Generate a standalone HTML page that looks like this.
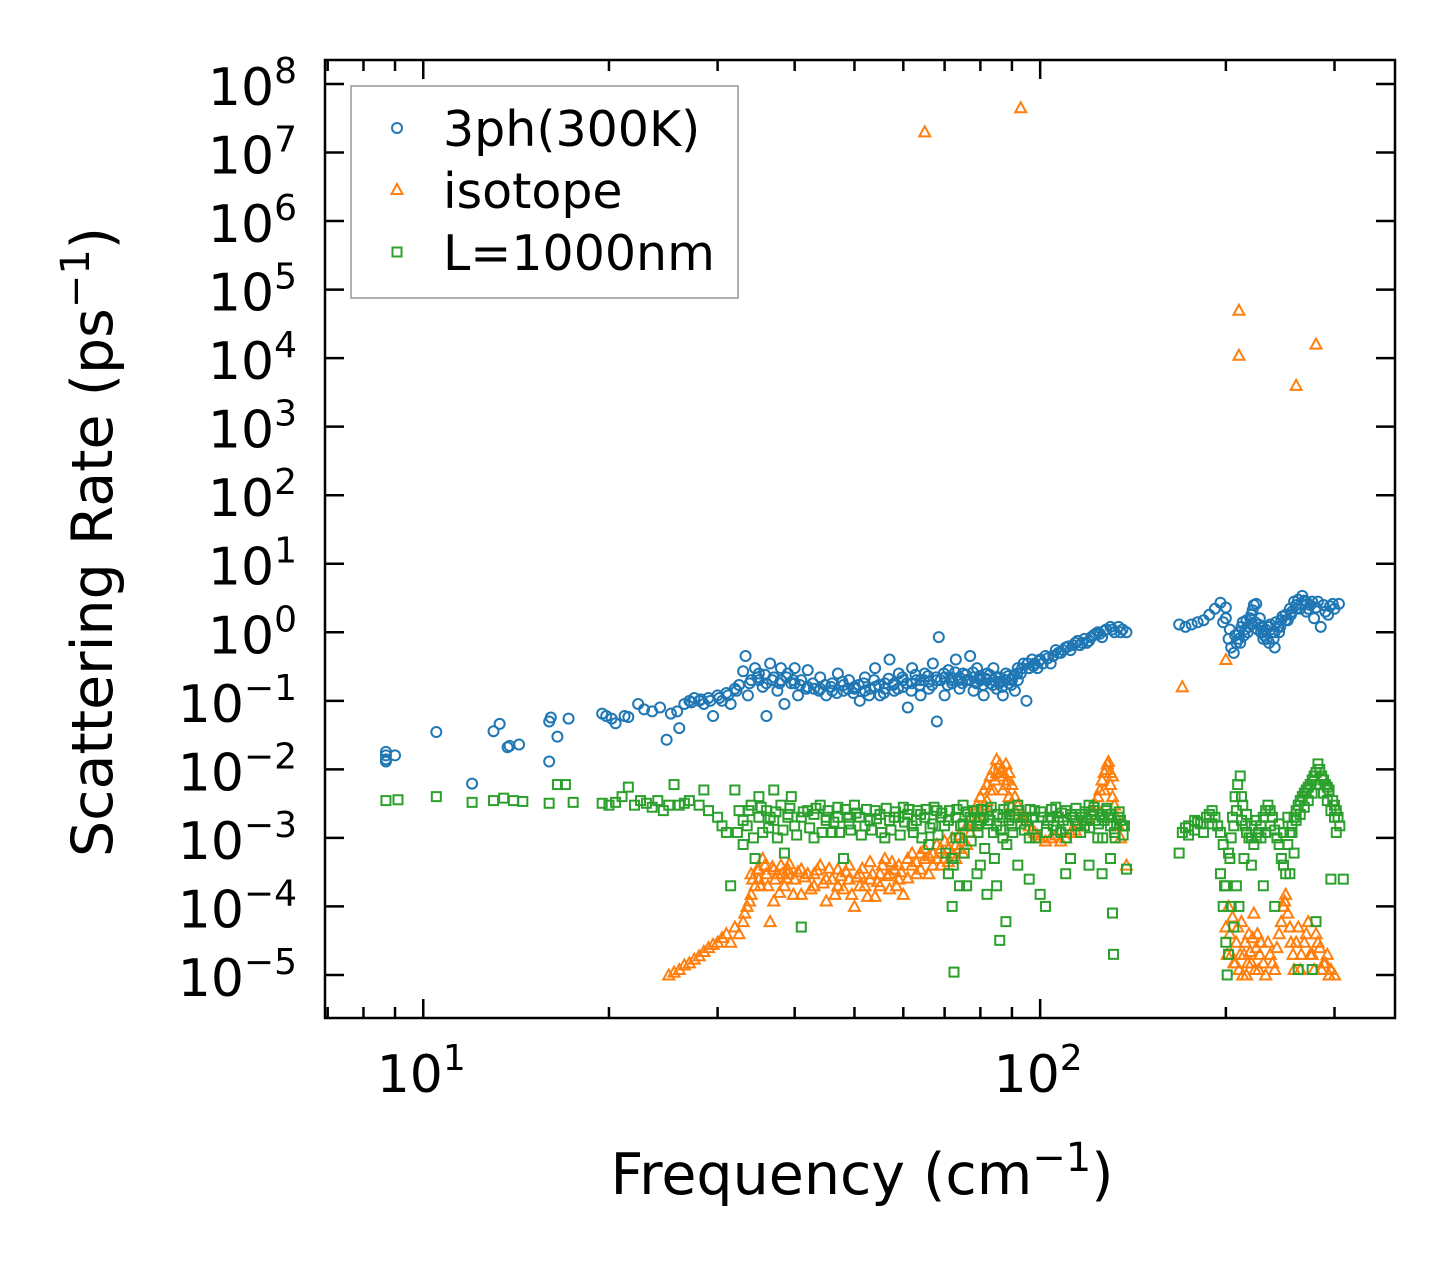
<!DOCTYPE html>
<html><head><meta charset="utf-8"><style>
html,body{margin:0;padding:0;background:#fff;}
svg{display:block;font-family:"DejaVu Sans","Liberation Sans",sans-serif;}
</style></head><body>
<svg id="chart" width="1455" height="1267" viewBox="0 0 1455 1267" xmlns="http://www.w3.org/2000/svg">
<rect x="0" y="0" width="1455" height="1267" fill="#fff"/>
<g id="marks"></g>
<g id="axes"></g>
<rect x="325" y="60" width="1070" height="958" fill="none" stroke="#000" stroke-width="2.5"/>
<text x="862" y="1194" font-size="57" text-anchor="middle">Frequency (cm<tspan dy="-23" font-size="40">−1</tspan><tspan dy="23">)</tspan></text>
<text transform="translate(112,542) rotate(-90)" font-size="57" text-anchor="middle">Scattering Rate (ps<tspan dy="-23" font-size="40">−1</tspan><tspan dy="23">)</tspan></text>
<g>
<rect x="351" y="86" width="387" height="212" fill="#fff" stroke="#999" stroke-width="1.5"/>
<circle cx="397" cy="128" r="5" fill="none" stroke="#1f77b4" stroke-width="2"/>
<text x="443" y="146" font-size="49">3ph(300K)</text>
<polygon points="397,184 402.5,194 391.5,194" fill="none" stroke="#ff7f0e" stroke-width="2"/>
<text x="443" y="208" font-size="49">isotope</text>
<rect x="392.5" y="247.5" width="9" height="9" fill="none" stroke="#2ca02c" stroke-width="2"/>
<text x="443" y="270" font-size="49">L=1000nm</text>
</g>
</svg>
<script>
const xTickExps = [1, 2];
const yTickExps = [8,7,6,5,4,3,2,1,0,-1,-2,-3,-4,-5];
const blueData = [[8.7,.018],[8.7,.016],[8.7,.014],[8.7,.013],[9,.016],[10.5,.035],[12,.0062],[13,.036],[13.3,.046],[13.7,.021],[13.8,.022],[14.3,.023],[16,.013],[16,.05],[16.1,.057],[16.5,.03],[17.2,.055],[19.5,.065],[19.8,.06],[20.2,.055],[20.5,.047],[21.2,.06],[21.5,.058],[22.3,.09],[22.8,.075],[23.5,.07],[24.2,.08],[24.8,.027],[25.2,.065],[25.8,.07],[26,.04],[26.5,.09],[27,.1],[27.5,.11],[28,.1],[28.5,.09],[29,.11],[29.5,.06],[30,.12],[30.5,.1],[31,.13],[31.5,.09],[32,.15],[32.5,.17],[33,.27],[33.3,.45],[33.6,.12],[34,.2],[34.5,.3],[35,.25],[35.5,.16],[36,.06],[36.5,.35],[37,.22],[37.5,.14],[38,.3],[38.5,.09],[39,.25],[39.5,.18],[40,.3],[40.5,.12],[41,.2],[42,.28],[43,.15],[44,.22],[45,.12],[46,.18],[47,.25],[48,.14],[49,.2],[50,.16],[51,.1],[52,.22],[53,.15],[54,.3],[55,.12],[56,.18],[57,.4],[58,.14],[59,.25],[60,.16],[61,.08],[62,.3],[63,.2],[64,.12],[65,.25],[66,.15],[67,.35],[68,.05],[68.5,.85],[69,.2],[70,.12],[71,.28],[72,.18],[73,.4],[74,.15],[75,.25],[76,.2],[77,.45],[78,.14],[79,.3],[80,.2],[81,.12],[82,.25],[83,.18],[84,.3],[85,.15],[86,.22],[87,.12],[88,.25],[89,.18],[90,.2],[91,.14],[92,.3],[93,.25],[94,.35],[95,.1],[96,.3],[97,.4],[98,.35],[100,.4],[102,.45],[104,.35],[106,.55],[108,.5],[110,.6],[112,.55],[114,.7],[116,.65],[118,.8],[120,.75],[122,.9],[124,1.0],[126,.85],[128,1.1],[130,1.2],[132,1.0],[134,1.2],[136,1.1],[138,1.0],[168,1.3],[172,1.2],[176,1.3],[180,1.4],[184,1.5],[188,1.8],[192,2.2],[196,2.7],[198,1.4],[200,2.3],[202,0.8],[204,0.6],[206,0.5],[208,0.7],[210,1.0],[212,1.2],[214,0.9],[216,1.5],[218,1.2],[220,1.8],[222,2.5],[224,2.6],[226,1.3],[228,1.0],[230,0.8],[232,1.1],[235,0.7],[238,1.0],[240,0.6],[243,1.2],[246,1.5],[250,1.8],[254,2.2],[258,2.8],[262,3.0],[266,3.4],[270,2.0],[274,2.5],[278,1.6],[282,2.8],[285,1.2],[290,2.0],[295,2.4],[300,2.2],[305,2.6],
[35,.2],[36,.18],[38,.2],[40,.18],[42,.16],[44,.15],[46,.14],[48,.17],[50,.15],[52,.14],[54,.16],[56,.15],[58,.18],[60,.2],[62,.18],[64,.2],[66,.19],[68,.2],[70,.22],[72,.2],[74,.22],[76,.2],[78,.22],[80,.21],[82,.2],[84,.2],[86,.19],[88,.2],[90,.21],[92,.2],[99,.3],[101,.35],[105,.45],[109,.55],[113,.65],[117,.7],[121,.85],[125,.95],[210,.8],[215,1.1],[220,1.3],[225,1.1],[230,1.0],[235,1.2],[240,1.0],[245,1.2],[250,1.5],[255,1.8],[260,2.2],[265,2.6],[270,2.8],
[27.2,.095],[28.2,.105],[29.2,.1],[30.2,.11],[31.2,.12],[32.2,.14],[33.8,.18],[34.8,.22],[35.8,.24],[36.8,.2],[37.8,.18],[38.8,.22],[39.8,.2],[40.8,.17],[41.8,.15],[42.8,.18],[43.8,.14],[44.8,.17],[45.8,.16],[46.8,.13],[47.8,.19],[48.8,.15],[49.8,.13],[50.8,.17],[51.8,.18],[52.8,.12],[53.8,.2],[54.8,.17],[55.8,.13],[56.8,.21],[57.8,.17],[58.8,.15],[59.8,.22],[60.8,.18],[61.8,.14],[62.8,.24],[63.8,.17],[64.8,.2],[65.8,.23],[66.8,.17],[67.8,.22],[69.8,.25],[70.8,.17],[71.8,.22],[72.8,.26],[73.8,.2],[74.8,.18],[75.8,.24],[76.8,.2],[77.8,.26],[78.8,.18],[79.8,.23],[80.8,.17],[81.8,.21],[82.8,.24],[83.8,.17],[84.8,.22],[85.8,.18],[86.8,.16],[87.8,.2],[88.8,.23],[89.8,.17],[90.8,.24],[91.8,.25],[93.5,.3],[95.5,.35],[97.5,.32],[99.5,.38],[103,.42],[107,.5],[111,.62],[115,.75],[119,.7],[123,.95],[127,1.05],[131,1.1],[135,1.0],
[200,1.6],[203,1.1],[207,0.9],[211,0.7],[213,1.4],[217,1.0],[219,1.6],[221,2.1],[223,1.4],[227,1.6],[229,1.2],[231,0.9],[233,0.8],[236,1.3],[239,0.8],[241,1.4],[244,1.0],[247,1.7],[252,1.5],[256,2.0],[260,2.5],[264,2.2],[268,2.9],[272,2.2],[276,2.8],[280,2.3],[288,2.5],[293,1.8],[298,2.6]];
const orangeData = [[65,2e7],[93,4.5e7],[210,5e4],[210,1.1e4],[260,4e3],[280,1.6e4],[170,0.16],[200,0.4],
[25,1e-5],[25.5,1.1e-5],[26,1.2e-5],[26.5,1.4e-5],[27,1.5e-5],[27.5,1.7e-5],[28,1.9e-5],[28.5,2.2e-5],[29,2.5e-5],[29.5,2.8e-5],[30,3e-5],[30.5,3.5e-5],[31,4e-5],[31.5,3e-5],[32,5e-5],[32.5,4e-5],[33,6e-5],[33.5,1e-4],[34,1.5e-4],[34.5,2e-4],[35,2.5e-4],[35.5,5e-4],[36,3e-4],[36.5,6e-5],[37,1.2e-4],[37.5,3e-4],[38,4e-4],[38.5,2e-4],[39,3.5e-4],[40,2.5e-4],[41,1.5e-4],[42,3e-4],[43,2e-4],[44,4e-4],[45,1.2e-4],[46,2.5e-4],[47,3.5e-4],[48,1.8e-4],[49,4e-4],[50,1e-4],[51,3e-4],[52,2e-4],[53,4.5e-4],[54,1.4e-4],[55,3e-4],[56,5e-4],[57,1.8e-4],[58,3.5e-4],[59,2.5e-4],[60,1.5e-4],[62,4e-4],[64,6e-4],[66,3e-4],[68,8e-4],[70,5e-4],[72,1e-3],[74,7e-4],[76,1.5e-3],[78,2.5e-3],[80,4e-3],[82,6e-3],[84,1e-2],[85,1.4e-2],[86,8e-3],[87,5e-3],[88,1.2e-2],[89,4e-3],[90,6e-3],[92,3e-3],[94,2e-3],[96,1.5e-3],[98,1.2e-3],[100,1e-3],[104,1e-3],[108,9e-4],[112,1.2e-3],[116,1.5e-3],[120,2e-3],[124,4e-3],[126,7e-3],[128,1e-2],[129,1.3e-2],[130,6e-3],[132,3e-3],[134,1.5e-3],[138,4e-4],
[34,3e-4],[35,3.5e-4],[37,3.5e-4],[39,3e-4],[41,3.5e-4],[43,3e-4],[45,2.5e-4],[47,2e-4],[49,2.5e-4],[51,2e-4],[53,2.5e-4],[55,2e-4],[57,3e-4],[59,4e-4],[61,5e-4],[63,3e-4],[65,5e-4],[67,6e-4],[69,4e-4],[71,7e-4],[73,5e-4],[75,9e-4],[77,1.2e-3],[79,2e-3],[81,3e-3],[83,5e-3],[84.5,7e-3],[86.5,1e-2],[88.5,7e-3],[91,4e-3],[123,3e-3],[127,5e-3],[131,8e-3],
[33.2,8e-5],[33.8,1.2e-4],[34.2,2.5e-4],[34.8,3.5e-4],[35.2,2e-4],[35.8,4e-4],[36.2,2e-4],[36.8,3.8e-4],[37.2,2.5e-4],[37.8,1.6e-4],[38.2,3e-4],[38.8,2.6e-4],[39.2,4.2e-4],[39.8,1.5e-4],[40.5,3.2e-4],[41.5,2.7e-4],[42.5,1.8e-4],[43.5,3.4e-4],[44.5,2.2e-4],[45.5,3.6e-4],[46.5,1.5e-4],[47.5,2.8e-4],[48.5,3.2e-4],[49.5,1.5e-4],[50.5,2.7e-4],[51.5,3.6e-4],[52.5,1.4e-4],[53.5,3e-4],[54.5,2.3e-4],[55.5,4e-4],[56.5,2.8e-4],[57.5,4.5e-4],[58.5,2e-4],[59.5,3.2e-4],[61,2.6e-4],[62,6e-4],[63,4.5e-4],[64,3.5e-4],[65,7e-4],[66,5.5e-4],[67,4e-4],[68,5e-4],[69,7e-4],[70,9e-4],[71,4.5e-4],[72,6e-4],[73,8e-4],[74,1.1e-3],[75,6e-4],[76,8e-4],[77,2e-3],[78,1.5e-3],[79,3e-3],[80,2e-3],[81,5e-3],[82,3.5e-3],[83,8e-3],[84,5e-3],[85,9e-3],[86,1.2e-2],[87,8e-3],[88,6e-3],[89,9e-3],[90,3e-3],[91,2.5e-3],[93,2e-3],[95,1.8e-3],[97,1.3e-3],[99,1.1e-3],[102,9e-4],[106,1.1e-3],[110,1e-3],[114,1.3e-3],[118,1.8e-3],[122,2.5e-3],[125,5e-3],[127,9e-3],[128.5,1.2e-2],[130,9e-3],[131,4e-3],[133,2e-3],[135,1e-3],
[200,5e-5],[202,1e-4],[204,2e-5],[206,1.5e-5],[208,3e-5],[210,1.2e-5],[212,6e-5],[214,2e-5],[216,1e-5],[218,4e-5],[220,1.5e-5],[222,8e-5],[224,2.5e-5],[226,1.2e-5],[228,3e-5],[232,1e-5],[236,2e-5],[240,1.2e-5],[244,4e-5],[248,1e-4],[250,1.5e-4],[252,8e-5],[255,3e-5],[258,1.2e-5],[262,5e-5],[265,2e-5],[268,3e-5],[272,6e-5],[276,2e-5],[280,4e-5],[284,2.5e-5],[288,1.5e-5],[292,2e-5],[296,1.2e-5],[300,1e-5],
[201,2e-5],[203,4e-5],[205,7e-5],[207,1.5e-5],[209,5e-5],[211,2e-5],[213,1e-5],[215,3e-5],[217,1.5e-5],[219,2.2e-5],[221,3.5e-5],[223,1.2e-5],[225,4e-5],[227,2e-5],[230,1.5e-5],[234,3e-5],[238,1.5e-5],[242,2.5e-5],[246,6e-5],[249,1.2e-4],[254,5e-5],[257,2e-5],[260,3e-5],[264,1.2e-5],[270,4e-5],[274,2e-5],[278,1.2e-5],[282,3e-5],[286,1.2e-5],[290,1.5e-5],[294,1e-5]];
const greenData = [[8.7,3.5e-3],[9.1,3.6e-3],[10.5,4e-3],[12,3.3e-3],[13,3.5e-3],[13.5,3.8e-3],[14,3.5e-3],[14.5,3.4e-3],[16,3.2e-3],[16.5,6e-3],[17,6e-3],[17.5,3.3e-3],[19.5,3.2e-3],[20,3e-3],[20.5,3.3e-3],[21,4e-3],[21.5,5.5e-3],[22,3e-3],[22.5,3.5e-3],[23,3.2e-3],[23.5,2.8e-3],[24,3.5e-3],[24.5,2.5e-3],[25,3e-3],[25.5,6e-3],[26,3e-3],[26.5,3.2e-3],[27,3.5e-3],[28,3e-3],[28.5,5e-3],[29,2.5e-3],[30,2e-3],[30.5,1.5e-3],[31,1.2e-3],[31.5,2e-4],[32,5e-3],[32.5,2.5e-3],[33,8e-4],[33.5,1.5e-3],[34,3e-3],[34.5,5e-4],[35,4e-3],[35.5,1.2e-3],[36,2.5e-3],[36.5,2e-3],[37,5e-3],[37.5,1e-3],[38,3e-3],[38.5,6e-4],[39,2e-3],[39.5,4e-3],[40,1.5e-3],[41,5e-5],[42,2.5e-3],[43,1e-3],[44,3e-3],[45,2e-3],[46,1.2e-3],[47,2.8e-3],[48,5e-4],[49,2e-3],[50,3e-3],[52,1.5e-3],[54,2.5e-3],[56,1e-3],[58,2e-3],[60,2.8e-3],[62,1.5e-3],[64,2.2e-3],[66,8e-4],[68,2.5e-3],[70,1.5e-3],[71,3e-4],[72,1e-4],[72.5,1.1e-5],[73,2e-3],[74,1e-3],[75,3e-3],[76,2e-4],[77,1.5e-3],[78,2.5e-3],[79,3e-4],[80,1.8e-3],[82,2.5e-3],[84,1.2e-3],[85,2e-4],[86,3.2e-5],[87,2e-3],[88,6e-5],[89,2.8e-3],[90,1.5e-3],[92,3e-3],[94,2e-3],[96,1e-3],[98,2.5e-3],[100,1.5e-4],[102,1e-4],[104,2e-3],[106,2.8e-3],[108,1.2e-3],[110,2.5e-3],[112,5e-4],[114,1.8e-3],[116,2.2e-3],[118,1.5e-3],[120,3e-3],[122,2.5e-3],[124,1e-3],[126,2e-3],[128,2.5e-3],[130,1.5e-3],[131,8e-5],[131.5,2e-5],[132,1.2e-3],[134,2e-3],[136,1.5e-3],[138,3.5e-4],
[33,1.8e-3],[35,2e-3],[37,1.8e-3],[39,2.2e-3],[41,2e-3],[43,2.2e-3],[45,1.8e-3],[47,2e-3],[49,1.6e-3],[51,2e-3],[53,1.8e-3],[55,2.2e-3],[57,1.8e-3],[59,2e-3],[61,2.2e-3],[63,1.8e-3],[65,2e-3],[67,1.6e-3],[69,2e-3],[71,1.8e-3],[73,1e-3],[75,1.6e-3],[77,2e-3],[79,1.5e-3],[81,2e-3],[83,1.8e-3],[85,1.5e-3],[87,1e-3],[89,1.8e-3],[91,2e-3],[93,1.6e-3],[95,1.8e-3],[97,2e-3],[99,1.5e-3],[101,2e-3],[103,1.8e-3],[105,1.5e-3],[107,2e-3],[109,1.8e-3],[111,1.5e-3],[113,2e-3],[115,1.5e-3],[117,2e-3],[119,1.8e-3],[121,2.2e-3],[123,1.8e-3],[125,2.2e-3],[127,1.8e-3],[129,2e-3],[133,1.6e-3],[135,1.8e-3],[137,1.5e-3],
[32.3,1.2e-3],[33.7,2.5e-3],[34.3,1e-3],[35.3,2.8e-3],[36.3,1.4e-3],[37.3,2.4e-3],[38.3,1.3e-3],[39.3,2.7e-3],[40.3,1.1e-3],[41.3,2.4e-3],[42.3,1.4e-3],[43.3,2.7e-3],[44.3,1.2e-3],[45.3,2.5e-3],[46.3,1.7e-3],[47.3,1.2e-3],[48.3,2.6e-3],[49.3,1.3e-3],[50.3,2.3e-3],[51.3,1.1e-3],[52.3,2.6e-3],[53.3,1.3e-3],[54.3,1.9e-3],[55.3,1.2e-3],[56.3,2.7e-3],[57.3,1.3e-3],[58.3,2.4e-3],[59.3,1.1e-3],[60.3,1.7e-3],[61.3,2.6e-3],[62.3,1.2e-3],[63.3,2.5e-3],[64.3,1e-3],[65.3,2.6e-3],[66.3,1.4e-3],[67.3,2.8e-3],[68.3,1.1e-3],[69.3,2.3e-3],[70.3,6e-4],[71.3,2.5e-3],[72.3,4e-4],[73.3,2.6e-3],[74.3,1.5e-3],[75.3,6e-4],[76.3,2.4e-3],[77.3,9e-4],[78.3,2e-3],[79.3,1.2e-3],[80.3,2.6e-3],[81.3,7e-4],[82.3,1.6e-3],[83.3,2.8e-3],[84.3,5e-4],[85.3,2.2e-3],[86.3,1.3e-3],[87.3,2.6e-3],[88.3,8e-4],[89.3,2.2e-3],[90.3,1.2e-3],[92.3,2.5e-3],[94.3,1.3e-3],[96.3,2.6e-3],[98.3,1e-3],[100.3,2.4e-3],[102.3,1.2e-3],[104.3,2.6e-3],[106.3,1.3e-3],[108.3,2.3e-3],[110.3,1e-3],[112.3,2.2e-3],[114.3,2.7e-3],[116.3,1.2e-3],[118.3,2.4e-3],[120.3,1.4e-3],[122.3,2.8e-3],[124.3,1.6e-3],[126.3,1e-3],[128.3,2.7e-3],[130.3,2.2e-3],[132.3,1e-3],[134.3,2.4e-3],[136.3,1.1e-3],[72,5e-4],[74,2e-4],[80,4e-4],[82,1.5e-4],[92,4e-4],[96,2.5e-4],[110,3e-4],[120,4e-4],[126,3e-4],[130,5e-4],
[168,6e-4],[170,1.2e-3],[174,1.5e-3],[178,1.8e-3],[182,1.6e-3],[186,2e-3],[190,2.5e-3],[194,1.5e-3],[196,3e-4],[198,1e-4],[200,3e-5],[201,1e-5],[203,5e-4],[205,2e-3],[207,4e-3],[209,6e-3],[211,8e-3],[213,3e-3],[215,1.5e-3],[218,1e-3],[222,8e-4],[226,1.2e-3],[230,2e-3],[234,3e-3],[238,2e-3],[242,1e-3],[246,5e-4],[250,3e-4],[254,1.2e-3],[258,2e-3],[262,3e-3],[266,4e-3],[270,5e-3],[274,6e-3],[278,8e-3],[282,1.2e-2],[286,8e-3],[290,6e-3],[294,5e-3],[298,3.5e-3],[302,2.5e-3],[306,1.5e-3],[296,2.5e-4],[262,1.2e-5],[240,1e-4],[230,2e-4],
[172,1.4e-3],[180,1.7e-3],[188,2.2e-3],[192,2e-3],[199,2e-4],[202,2e-5],[204,1e-4],[206,1.5e-3],[212,4e-3],[216,1.2e-3],[220,1e-3],[224,1e-3],[228,1.5e-3],[232,2.5e-3],[236,2.5e-3],[244,8e-4],[248,4e-4],[252,8e-4],[256,1.5e-3],[260,2.5e-3],[264,3.5e-3],[268,4.5e-3],[272,5.5e-3],[276,7e-3],[280,9e-3],[284,1e-2],[288,7e-3],[292,5.5e-3],[300,3e-3],[304,2e-3],
[174,1.1e-3],[178,1.3e-3],[184,1.2e-3],[190,1.6e-3],[196,1.2e-3],[198,8e-4],[200,2e-4],[202,6e-4],[204,1e-3],[208,2.5e-3],[212,1.8e-3],[216,2.2e-3],[220,1.5e-3],[224,1.8e-3],[228,1e-3],[232,1.2e-3],[236,1.5e-3],[240,1.3e-3],[244,1.6e-3],[248,1.2e-3],[252,2e-3],[256,1.2e-3],[260,1.8e-3],[264,2.2e-3],[268,2.8e-3],[272,3.5e-3],[276,4.5e-3],[280,6e-3],[284,6e-3],[288,4.5e-3],[292,3.5e-3],[296,2.5e-3],[300,2e-3],[302,1.2e-3],[206,5e-5],[208,2e-4],[210,1e-4],[214,5e-4],[220,4e-4],[254,3e-4],[258,6e-4],[276,1.2e-5],[280,6e-5],[310,2.5e-4]];

const L=325,R=1395,T=60,B=1018;
const xMinL=Math.log10(6.93), xMaxL=Math.log10(376);
const yMinL=-5.628, yMaxL=8.35;
function xs(v){return L+(Math.log10(v)-xMinL)/(xMaxL-xMinL)*(R-L);}
function ys(v){return B-(Math.log10(v)-yMinL)/(yMaxL-yMinL)*(B-T);}
const NS='http://www.w3.org/2000/svg';
const marks=document.getElementById('marks');
const axes=document.getElementById('axes');
function mk(tag,attrs,parent){const e=document.createElementNS(NS,tag);for(const k in attrs)e.setAttribute(k,attrs[k]);parent.appendChild(e);return e;}

const gB=mk('g',{},marks);


const gO=mk('g',{},marks);


const gG=mk('g',{},marks);



blueData.forEach(d=>{
  const c=mk('circle',{cx:xs(d[0]),cy:ys(d[1]),r:5,fill:'none',stroke:'#1f77b4','stroke-width':2},gB);
  
  
});
orangeData.forEach(d=>{
  const x=xs(d[0]),y=ys(d[1]);
  const p=mk('polygon',{points:`${x},${y-5.5} ${x+5.5},${y+4.5} ${x-5.5},${y+4.5}`,fill:'none',stroke:'#ff7f0e','stroke-width':2},gO);
  
  
});
greenData.forEach(d=>{
  const x=xs(d[0]),y=ys(d[1]);
  const r=mk('rect',{x:x-4.5,y:y-4.5,width:9,height:9,fill:'none',stroke:'#2ca02c','stroke-width':2},gG);
  
  
});

const tk={stroke:'#000','stroke-width':2.5};
for(let e=0;e<=2;e++){for(let m=1;m<=9;m++){const v=m*Math.pow(10,e);const x=xs(v);if(x<L||x>R)continue;const len=m===1?19:11;
  mk('line',Object.assign({x1:x,x2:x,y1:B,y2:B-len},tk),axes);
  mk('line',Object.assign({x1:x,x2:x,y1:T,y2:T+len},tk),axes);}}
xTickExps.forEach(e=>{
  const t=mk('text',{x:xs(Math.pow(10,e))-2,y:1092,'font-size':52,'text-anchor':'middle'},axes);
  
  
  t.innerHTML=`10<tspan dy="-22" font-size="36">${e}</tspan>`;
});
yTickExps.forEach(e=>{
  const y=ys(Math.pow(10,e));
  mk('line',Object.assign({x1:L,x2:L+19,y1:y,y2:y},tk),axes);
  mk('line',Object.assign({x1:R,x2:R-19,y1:y,y2:y},tk),axes);
  const t=mk('text',{x:297,y:y+21,'font-size':52,'text-anchor':'end'},axes);
  
  
  const lab=e<0?'−'+(-e):String(e);
  t.innerHTML=`10<tspan dy="-22" font-size="36">${lab}</tspan>`;
});
</script>
</body></html>
